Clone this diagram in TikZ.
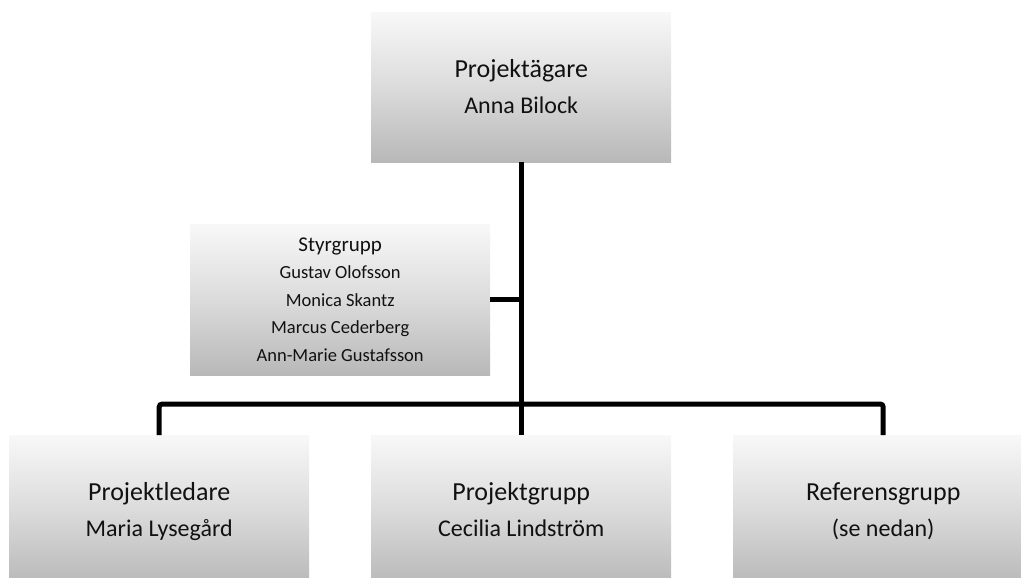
\documentclass[tikz,border=0pt]{standalone}
\usepackage{fontspec}
\setmainfont{Carlito}
\definecolor{shtop}{HTML}{F8F8F8}
\definecolor{shbot}{HTML}{B8B8B8}
\definecolor{txt}{HTML}{111111}
\tikzset{
  orgbox/.style={rectangle, minimum width=300pt, minimum height=150pt, inner sep=0pt,
    top color=shtop, bottom color=shbot, middle color=shtop!55!shbot, draw=none,
    align=center, text=txt, anchor=north west},
  bigbox/.style={orgbox, font=\fontsize{26}{36}\selectfont},
  smallbox/.style={orgbox, minimum height=151pt, font=\fontsize{18.5}{27.5}\selectfont},
  link/.style={line width=5pt, draw=black, rounded corners=3pt}
}
\newcommand{\twolines}[2]{\rule{0pt}{24pt}#1\\\fontsize{24}{36}\selectfont #2\rule[-7pt]{0pt}{7pt}}
\begin{document}
\begin{tikzpicture}[x=1pt,y=-1pt]
\useasboundingbox (0,0) rectangle (1021,578);
\clip (0,0) rectangle (1021,578);
\node[bigbox] (tb) at (371,12) {\twolines{Projektägare}{Anna Bilock}};
\node[smallbox] (sg) at (190,224) {{\fontsize{21}{27.5}\selectfont Styrgrupp}\\Gustav Olofsson\\Monica Skantz\\Marcus Cederberg\\Ann-Marie Gustafsson};
\node[bigbox] (pl) at (9,435) {\twolines{Projektledare}{Maria Lysegård}};
\node[bigbox] (pg) at (371,435) {\twolines{Projektgrupp}{Cecilia Lindström}};
\node[bigbox] (rg) at (733,435) {\twolines{Referensgrupp}{(se nedan)}};
\coordinate (bar) at (521,404);
\draw[link] (tb.south) -- (pg.north);
\draw[link] (sg.east) -- (sg.east -| tb.south);
\draw[link] (pl.north) |- (bar) -| (rg.north);
\end{tikzpicture}
\end{document}
